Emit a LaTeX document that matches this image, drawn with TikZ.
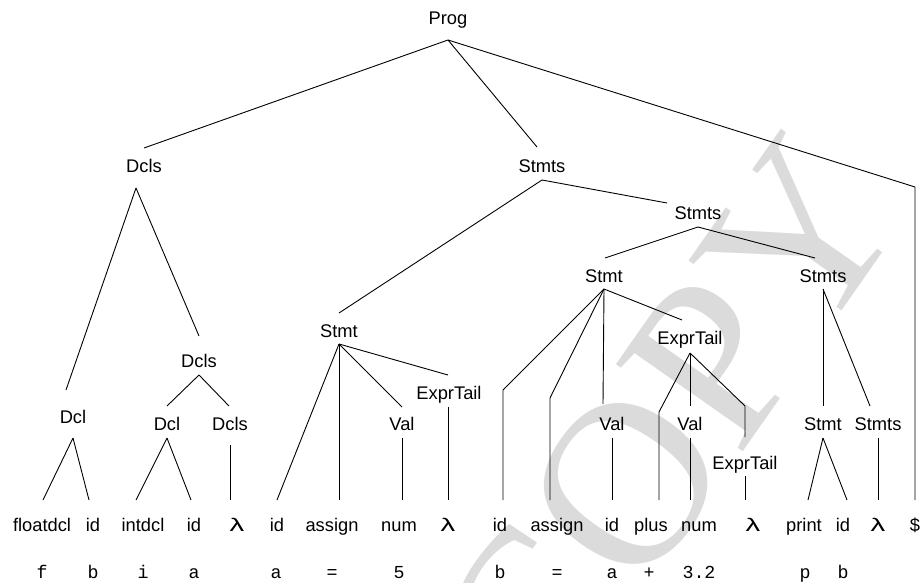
\documentclass[tikz,border=0pt]{standalone}
\usepackage{fontspec}
\setmainfont{Liberation Sans}
\newfontfamily\codefont{Liberation Mono}
\newfontfamily\markfont{Liberation Serif}
\begin{document}
\begin{tikzpicture}[x=1pt,y=-1pt,
  sym/.style={anchor=base,inner sep=0pt,font=\fontsize{18.3}{20}\selectfont},
  tok/.style={anchor=base,inner sep=0pt,font=\codefont\fontsize{18.3}{20}\selectfont},
  edge/.style={line width=0.9pt,line join=miter},
  lam/.style={sym,font=\fontsize{18.3}{20}\selectfont}]
\useasboundingbox (0,0) rectangle (921,583);

% background watermark
\begin{scope}
\clip (0,0) rectangle (921,583);
\node[text=black!14,font=\markfont\fontsize{235}{235}\selectfont,rotate=55,anchor=center]
  (wm) at (668,425) {COPY};
\end{scope}

% ---------- nonterminals ----------
\node[sym] (prog)   at (448,25)  {Prog};
\node[sym] (dclsA)  at (144,172) {Dcls};
\node[sym] (stmtsA) at (542,172) {Stmts};
\node[sym] (dclA)   at (73,423)  {Dcl};
\node[sym] (dclsB)  at (199,367) {Dcls};
\node[sym] (dclB)   at (167,430) {Dcl};
\node[sym] (dclsC)  at (230,430) {Dcls};
\node[sym] (stmtA)  at (339,337) {Stmt};
\node[sym] (valA)   at (402,430) {Val};
\node[sym] (etA)    at (449,399) {ExprTail};
\node[sym] (stmtsB) at (698,219) {Stmts};
\node[sym] (stmtB)  at (604,282) {Stmt};
\node[sym] (stmtsC) at (823,282) {Stmts};
\node[sym] (etB)    at (690,344) {ExprTail};
\node[sym] (valB)   at (612,430) {Val};
\node[sym] (valC)   at (690,430) {Val};
\node[sym] (etC)    at (745,469) {ExprTail};
\node[sym] (stmtC)  at (823,430) {Stmt};
\node[sym] (stmtsD) at (878,430) {Stmts};

% ---------- terminals ----------
\node[sym] (t1)  at (42,531)  {floatdcl};
\node[sym] (t2)  at (93,531)  {id};
\node[sym] (t3)  at (143,531) {intdcl};
\node[sym] (t4)  at (194,531) {id};
\node[lam] (t5)  at (237,531) {\scalebox{1.6}[1]{λ}};
\node[sym] (t6)  at (277,531) {id};
\node[sym] (t7)  at (332,531) {assign};
\node[sym] (t8)  at (399,531) {num};
\node[lam] (t9)  at (448,531) {\scalebox{1.6}[1]{λ}};
\node[sym] (t10) at (500,531) {id};
\node[sym] (t11) at (557,531) {assign};
\node[sym] (t12) at (612,531) {id};
\node[sym] (t13) at (651,531) {plus};
\node[sym] (t14) at (699,531) {num};
\node[lam] (t15) at (753,531) {\scalebox{1.6}[1]{λ}};
\node[sym] (t16) at (804,531) {print};
\node[sym] (t17) at (843,531) {id};
\node[lam] (t18) at (878,531) {\scalebox{1.6}[1]{λ}};
\node[sym] (t19) at (915,531) {\$};

% ---------- source tokens ----------
\node[tok] (s1)  at (42,578)  {f};
\node[tok] (s2)  at (93,578)  {b};
\node[tok] (s3)  at (143,578) {i};
\node[tok] (s4)  at (194,578) {a};
\node[tok] (s6)  at (276,578) {a};
\node[tok] (s7)  at (332,578) {=};
\node[tok] (s8)  at (399,578) {5};
\node[tok] (s10) at (500,578) {b};
\node[tok] (s11) at (557,578) {=};
\node[tok] (s12) at (612,578) {a};
\node[tok] (s13) at (649,578) {+};
\node[tok] (s14) at (699,578) {3.2};
\node[tok] (s16) at (805,578) {p};
\node[tok] (s17) at (843,578) {b};

% ---------- attachment points of the edges ----------
% bottoms of the parents
\coordinate (progB)   at (448,40);
\coordinate (dclsAB)  at (136,188);
\coordinate (dclAB)   at (73,438);
\coordinate (dclsBB)  at (199,375);
\coordinate (dclBB)   at (167,438);
\coordinate (dclsCB)  at (230,445);
\coordinate (stmtsAB) at (542,180);
\coordinate (stmtAB)  at (339,344);
\coordinate (valAB)   at (402,438);
\coordinate (etAB)    at (448,407);
\coordinate (stmtsBB) at (698,227);
\coordinate (stmtBB)  at (604,289);
\coordinate (etBB)    at (690,353);
\coordinate (valBB)   at (612,438);
\coordinate (valCB)   at (690,438);
\coordinate (etCB)    at (745,476);
\coordinate (stmtsCB) at (823,289);
\coordinate (stmtCB)  at (823,438);
\coordinate (stmtsDB) at (878,438);
% tops of the children
\coordinate (dclsAT)  at (144,148);
\coordinate (stmtsAT) at (537,147);
\coordinate (dollarK) at (915,187);
\coordinate (dclAT)   at (66,390);
\coordinate (dclsBT)  at (199,336);
\coordinate (dclBT)   at (167,406);
\coordinate (dclsCT)  at (229,406);
\coordinate (stmtAT)  at (339,313);
\coordinate (stmtsBT) at (667,203);
\coordinate (valAT)   at (402,407);
\coordinate (etAT)    at (448,375);
\coordinate (stmtBT)  at (605,258);
\coordinate (stmtsCT) at (815,258);
\coordinate (idK)     at (503,390);
\coordinate (asgK)    at (550,398);
\coordinate (valBT)   at (603,404);
\coordinate (etBT)    at (682,320);
\coordinate (plusK)   at (659,412);
\coordinate (valCT)   at (690,406);
\coordinate (etCK)    at (745,406);
\coordinate (etCT)    at (745,437);
\coordinate (stmtCT)  at (823,406);
\coordinate (stmtsDT) at (870,406);
% tops of the leaves
\coordinate (t1T)  at (43,500);
\coordinate (t2T)  at (89,500);
\coordinate (t3T)  at (136,500);
\coordinate (t4T)  at (191,500);
\coordinate (t5T)  at (230,500);
\coordinate (t6T)  at (277,500);
\coordinate (t7T)  at (339,500);
\coordinate (t8T)  at (402,500);
\coordinate (t9T)  at (448,500);
\coordinate (t10T) at (503,500);
\coordinate (t11T) at (550,500);
\coordinate (t12T) at (612,500);
\coordinate (t13T) at (659,500);
\coordinate (t14T) at (690,500);
\coordinate (t15T) at (745,500);
\coordinate (t16T) at (808,500);
\coordinate (t17T) at (847,500);
\coordinate (t18T) at (878,500);
\coordinate (t19T) at (915,500);

% ---------- edges ----------
\draw[edge] (progB) -- (dclsAT);
\draw[edge] (progB) -- (stmtsAT);
\draw[edge] (progB) -- (dollarK) -- (t19T);

\draw[edge] (dclsAB) -- (dclAT);
\draw[edge] (dclsAB) -- (dclsBT);
\draw[edge] (dclAB) -- (t1T);
\draw[edge] (dclAB) -- (t2T);
\draw[edge] (dclsBB) -- (dclBT);
\draw[edge] (dclsBB) -- (dclsCT);
\draw[edge] (dclBB) -- (t3T);
\draw[edge] (dclBB) -- (t4T);
\draw[edge] (dclsCB) -- (t5T);

\draw[edge] (stmtsAB) -- (stmtAT);
\draw[edge] (stmtsAB) -- (stmtsBT);
\draw[edge] (stmtAB) -- (t6T);
\draw[edge] (stmtAB) -- (t7T);
\draw[edge] (stmtAB) -- (valAT);
\draw[edge] (stmtAB) -- (etAT);
\draw[edge] (valAB) -- (t8T);
\draw[edge] (etAB) -- (t9T);

\draw[edge] (stmtsBB) -- (stmtBT);
\draw[edge] (stmtsBB) -- (stmtsCT);
\draw[edge] (stmtBB) -- (idK) -- (t10T);
\draw[edge] (stmtBB) -- (asgK) -- (t11T);
\draw[edge] (stmtBB) -- (valBT);
\draw[edge] (stmtBB) -- (etBT);
\draw[edge] (valBB) -- (t12T);
\draw[edge] (etBB) -- (plusK) -- (t13T);
\draw[edge] (etBB) -- (valCT);
\draw[edge] (etBB) -- (etCK) -- (etCT);
\draw[edge] (valCB) -- (t14T);
\draw[edge] (etCB) -- (t15T);

\draw[edge] (stmtsCB) -- (stmtCT);
\draw[edge] (stmtsCB) -- (stmtsDT);
\draw[edge] (stmtCB) -- (t16T);
\draw[edge] (stmtCB) -- (t17T);
\draw[edge] (stmtsDB) -- (t18T);
\end{tikzpicture}
\end{document}
